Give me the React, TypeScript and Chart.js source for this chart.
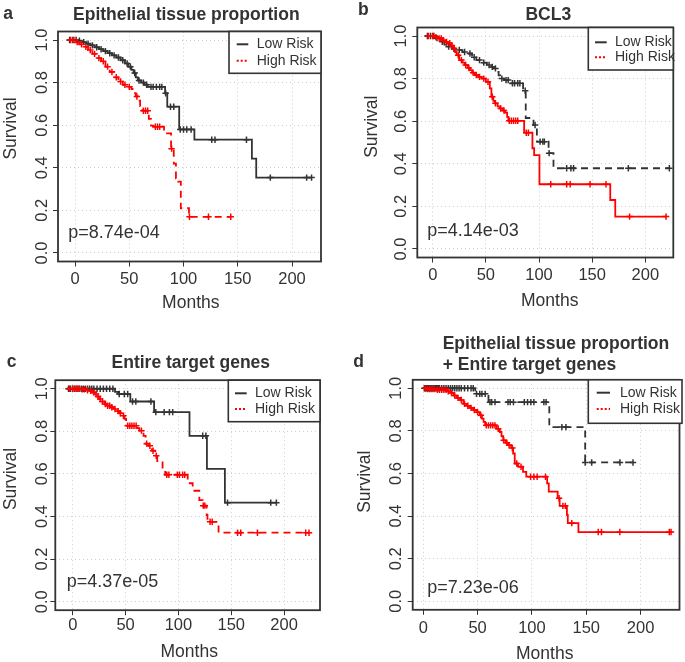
import React, { useEffect, useRef } from 'react';
import { Chart, registerables } from 'chart.js';

Chart.register(...registerables);

const FONT = '"Liberation Sans", Arial, Helvetica, sans-serif';
const INK = '#333333';
const RED = '#ff0000';

const xTicks = [0, 50, 100, 150, 200];
const yTicks = [0, 0.2, 0.4, 0.6, 0.8, 1.0];
const legendLabels = ['Low Risk', 'High Risk'];
const panelLetters = ['a', 'b', 'c', 'd'];
const panelTitles = [
  ['Epithelial tissue proportion'],
  ['BCL3'],
  ['Entire target genes'],
  ['Epithelial tissue proportion', '+ Entire target genes'],
];
const pValues = ['p=8.74e-04', 'p=4.14e-03', 'p=4.37e-05', 'p=7.23e-06'];
const xLabel = 'Months';
const yLabel = 'Survival';

// ---- Panel a: Epithelial tissue proportion ----
const aLowT = [-7, 2, 6, 10, 14, 18, 22, 26, 30, 34, 38, 42, 46, 49, 52, 54, 56, 58, 61, 64, 67, 83, 85, 96, 110, 163, 167];
const aLowS = [1.0, 0.997, 0.99, 0.983, 0.975, 0.966, 0.957, 0.948, 0.938, 0.928, 0.918, 0.905, 0.89, 0.875, 0.86, 0.845, 0.825, 0.81, 0.8, 0.79, 0.78, 0.75, 0.687, 0.58, 0.532, 0.443, 0.354];
const aLowC = [-5, -2, 1, 4, 8, 12, 16, 20, 24, 28, 32, 36, 40, 44, 48, 51, 55, 59, 63, 66, 70, 72, 75, 78, 80, 83.5, 88, 91, 97, 100, 103, 107, 126, 129, 158, 180, 213.5, 218];
const aHighT = [-7, 0, 4, 8, 12, 16, 20, 24, 28, 32, 36, 40, 44, 48, 52, 54, 56, 58, 60, 62, 68, 70, 72, 82, 88.5, 91, 93, 95, 97.5, 105];
const aHighS = [1.0, 0.99, 0.98, 0.968, 0.953, 0.935, 0.915, 0.9, 0.875, 0.85, 0.825, 0.805, 0.79, 0.78, 0.77, 0.75, 0.735, 0.715, 0.69, 0.668, 0.63, 0.598, 0.593, 0.562, 0.49, 0.42, 0.35, 0.335, 0.21, 0.17];
const aHighC = [-4, -1, 2, 6, 10, 14, 18, 22, 26, 30, 34, 38, 42, 46, 50, 57, 63, 65, 67, 74, 76, 78, 89, 105.5, 123, 143.5];

// ---- Panel b: BCL3 ----
const bLowT = [-7, 3, 7, 11, 13, 18, 22, 28, 32, 37, 41, 46, 51, 55, 57, 60, 62, 63.5, 67, 73, 85, 87.5, 94.8, 98, 109, 113.6];
const bLowS = [1.0, 0.99, 0.973, 0.96, 0.95, 0.94, 0.934, 0.925, 0.918, 0.9, 0.887, 0.875, 0.864, 0.855, 0.848, 0.832, 0.815, 0.8, 0.793, 0.778, 0.743, 0.615, 0.582, 0.504, 0.45, 0.379];
const bLowC = [-5, -2, 1, 4, 9, 15, 20, 25, 30, 35, 39, 44, 48, 53, 56, 59, 65, 69, 71, 75, 77, 80, 82, 87, 96.3, 101, 103.6, 105, 109.5, 126, 130, 132.5, 184, 222.6];
const bHighT = [-6, 2, 5, 9, 12, 14.4, 17, 19, 21, 22.5, 25, 28, 30, 33, 35, 37, 39.5, 43, 46, 50, 53.7, 55.2, 57, 58.4, 61, 63, 66, 68, 70, 71.2, 86, 93.8, 95.4, 100.4, 167, 171.7];
const bHighS = [1.0, 0.995, 0.989, 0.98, 0.972, 0.966, 0.955, 0.942, 0.925, 0.91, 0.887, 0.875, 0.864, 0.85, 0.84, 0.828, 0.817, 0.808, 0.8, 0.785, 0.754, 0.715, 0.695, 0.684, 0.67, 0.66, 0.65, 0.64, 0.62, 0.602, 0.546, 0.473, 0.441, 0.304, 0.23, 0.152];
const bHighC = [-4, 0, 3, 6, 8, 10, 13, 16, 18, 20, 24, 27, 31, 34, 38, 41, 44, 48, 52, 56, 59, 64, 67, 72, 74, 76, 78, 80, 88, 90, 111, 126, 129.3, 148, 163, 185.2, 219.5];

// ---- Panel c: Entire target genes ----
const cLowT = [-6, 40, 43, 54.5, 77, 110.5, 127, 144];
const cLowS = [1.0, 0.985, 0.975, 0.94, 0.89, 0.779, 0.624, 0.465];
const cLowC = [-4, -2, 0, 2, 4, 6, 8, 10, 12, 14, 16, 18, 20, 23, 26, 29, 32, 35, 38, 44, 48.8, 52, 56.6, 59.7, 74, 78.6, 86.5, 91.5, 94.6, 123, 126, 146.5, 187.4, 192.7];
const cHighT = [-5, 8, 13, 16, 19, 21, 23, 25, 27, 30, 33, 36, 39, 42, 44, 46, 49, 50.5, 61, 63, 67, 69, 72, 75, 78, 80, 85, 87.5, 108.8, 113.5, 119.8, 123, 126.7, 127.5, 138];
const cHighS = [1.0, 0.997, 0.993, 0.99, 0.982, 0.975, 0.963, 0.952, 0.94, 0.928, 0.92, 0.913, 0.905, 0.895, 0.885, 0.873, 0.858, 0.826, 0.815, 0.803, 0.779, 0.742, 0.732, 0.709, 0.685, 0.654, 0.623, 0.596, 0.556, 0.521, 0.477, 0.451, 0.407, 0.375, 0.324];
const cHighC = [-3, 0, 2, 4, 6, 9, 11, 14, 17, 20, 22, 24, 26, 28, 31, 33, 35, 37, 40, 43, 45, 48, 52, 54, 56, 58, 60, 65, 70, 73, 76, 79, 89, 91, 99, 101, 104, 106, 123.5, 125, 130, 132, 156, 159, 174.8, 220.5, 223.6];

// ---- Panel d: Epithelial tissue proportion + Entire target genes ----
const dLowT = [0, 47.8, 60, 116, 149];
const dLowS = [1.0, 0.974, 0.935, 0.818, 0.652];
const dLowC = [1, 2, 3, 4, 5, 6, 7, 8, 9, 10, 11, 12, 13, 14, 15, 17, 19, 21, 23, 25, 27, 29, 31, 33, 35, 38, 41, 44, 46, 49, 52, 54, 57, 61.4, 63, 66, 78, 80, 83, 93, 96, 99, 101.8, 111, 113, 127.6, 131.3, 149, 155, 181, 193];
const dHighT = [0, 3, 12, 22, 25, 28, 31, 34, 37, 40, 43, 46, 49, 52, 54, 55.5, 57, 67.5, 70.5, 72, 73.6, 76, 78, 81, 82.7, 84.2, 87.2, 91.8, 94.8, 114, 115.5, 123.7, 125.5, 132.2, 133, 142.8];
const dHighS = [1.0, 0.997, 0.993, 0.986, 0.978, 0.966, 0.955, 0.945, 0.927, 0.918, 0.908, 0.898, 0.888, 0.873, 0.858, 0.842, 0.826, 0.81, 0.795, 0.775, 0.756, 0.744, 0.733, 0.72, 0.694, 0.647, 0.632, 0.608, 0.585, 0.554, 0.515, 0.484, 0.448, 0.406, 0.367, 0.325];
const dHighC = [2, 4, 6, 8, 10, 13, 15, 17, 19, 21, 23, 26, 29, 32, 35, 38, 41, 44, 47, 50, 53, 58, 60, 62, 64, 66, 69, 74, 77, 79, 82, 86, 90, 98.8, 101.8, 104.8, 112.5, 125, 128.5, 130.7, 136.7, 161, 164, 180.9, 226.4, 228];

const panelData = [
  { lowT: aLowT, lowS: aLowS, lowC: aLowC, highT: aHighT, highS: aHighS, highC: aHighC },
  { lowT: bLowT, lowS: bLowS, lowC: bLowC, highT: bHighT, highS: bHighS, highC: bHighC },
  { lowT: cLowT, lowS: cLowS, lowC: cLowC, highT: cHighT, highS: cHighS, highC: cHighC },
  { lowT: dLowT, lowS: dLowS, lowC: dLowC, highT: dHighT, highS: dHighS, highC: dHighC },
];

// ---- Layout (page pixel positions) ----
const DASH = [7, 5];
const layouts = [
  {
    box: { l: 58, t: 31.5, r: 321, b: 261.5 }, xMin: -15.7, xMax: 226.7,
    letter: { x: 3.3, y: 18.5 }, title: { x: 186.3, ys: [19.5], align: 'center' },
    pval: { x: 68.3, y: 237.5 }, xTickY: 283.5, yTickX: 46.5,
    xTitle: { x: 190.8, y: 307.5 }, yTitle: { x: 15.5, y: 128.5 },
    legend: { l: 229, t: 31.5, r: 321, b: 73.3, sx1: 236.7, sx2: 248.3, tx: 256.7, y1: 44.3, y2: 60.7 },
    lowDash: [], highDash: DASH,
  },
  {
    box: { l: 417.3, t: 27.5, r: 673.3, b: 257.5 }, xMin: -14.5, xMax: 226.3,
    letter: { x: 358, y: 15 }, title: { x: 548.3, ys: [19.5], align: 'center' },
    pval: { x: 427.3, y: 236 }, xTickY: 280, yTickX: 405.5,
    xTitle: { x: 549.7, y: 305.5 }, yTitle: { x: 376.5, y: 126.7 },
    legend: { l: 588.3, t: 27.5, r: 673.3, b: 70, sx1: 595, sx2: 606.7, tx: 615, y1: 42.3, y2: 57.3 },
    lowDash: DASH, highDash: [],
  },
  {
    box: { l: 55.3, t: 380.2, r: 320, b: 610.2 }, xMin: -16.5, xMax: 234,
    letter: { x: 6.7, y: 366.7 }, title: { x: 190.8, ys: [367.5], align: 'center' },
    pval: { x: 66.7, y: 586.7 }, xTickY: 630, yTickX: 46.5,
    xTitle: { x: 189.2, y: 657 }, yTitle: { x: 16, y: 479 },
    legend: { l: 228.3, t: 380.2, r: 320, b: 421.7, sx1: 235, sx2: 246.7, tx: 255, y1: 393.3, y2: 409 },
    lowDash: [], highDash: DASH,
  },
  {
    box: { l: 412.7, t: 379.8, r: 682, b: 609.8 }, xMin: -9.7, xMax: 235.8,
    letter: { x: 353.3, y: 366.7 }, title: { x: 442.7, ys: [348.5, 369.5], align: 'left' },
    pval: { x: 427.3, y: 592.7 }, xTickY: 633.3, yTickX: 400.5,
    xTitle: { x: 544.7, y: 658.5 }, yTitle: { x: 370, y: 481.7 },
    legend: { l: 588.3, t: 379.8, r: 682, b: 423.3, sx1: 596.7, sx2: 610, tx: 620, y1: 392.7, y2: 409 },
    lowDash: DASH, highDash: [],
  },
];

const W = 685;
const H = 662;

function survAt(T: number[], S: number[], t: number) {
  let v = S[0];
  for (let i = 0; i < T.length; i++) if (T[i] <= t) v = S[i];
  return v;
}

function curve(T: number[], S: number[], C: number[]) {
  const pts = T.map((t, i) => ({ x: t, y: S[i] }));
  const end = Math.max(...C);
  if (end > T[T.length - 1]) pts.push({ x: end, y: S[S.length - 1] });
  return pts;
}

function censors(T: number[], S: number[], C: number[]) {
  return C.map((c) => ({ x: c, y: survAt(T, S, c) }));
}

function makeOverlay(idx: number) {
  const L: any = layouts[idx];
  return {
    id: 'overlay' + idx,
    afterDraw(chart: any) {
      const ctx = chart.ctx as CanvasRenderingContext2D;
      const { left, top, right, bottom } = chart.chartArea;
      const xs = chart.scales.x;
      const ys = chart.scales.y;
      ctx.save();
      // plot box
      ctx.strokeStyle = INK;
      ctx.lineWidth = 1.8;
      ctx.setLineDash([]);
      ctx.strokeRect(left, top, right - left, bottom - top);

      ctx.fillStyle = INK;
      // x tick labels
      ctx.font = `16.5px ${FONT}`;
      ctx.textAlign = 'center';
      ctx.textBaseline = 'alphabetic';
      xTicks.forEach((v) => {
        ctx.fillText(String(v), xs.getPixelForValue(v), L.xTickY);
      });
      // y tick labels (rotated)
      yTicks.forEach((v) => {
        ctx.save();
        ctx.translate(L.yTickX, ys.getPixelForValue(v));
        ctx.rotate(-Math.PI / 2);
        ctx.fillText(v.toFixed(1), 0, 0);
        ctx.restore();
      });
      // axis titles
      ctx.font = `17.5px ${FONT}`;
      ctx.fillText(xLabel, L.xTitle.x, L.xTitle.y);
      ctx.save();
      ctx.translate(L.yTitle.x, L.yTitle.y);
      ctx.rotate(-Math.PI / 2);
      ctx.fillText(yLabel, 0, 0);
      ctx.restore();
      // p-value
      ctx.font = `18px ${FONT}`;
      ctx.textAlign = 'left';
      ctx.fillText(pValues[idx], L.pval.x, L.pval.y);
      // title
      ctx.font = `bold 17.5px ${FONT}`;
      ctx.textAlign = L.title.align;
      panelTitles[idx].forEach((t, i) => ctx.fillText(t, L.title.x, L.title.ys[i]));
      // letter
      ctx.textAlign = 'left';
      ctx.fillText(panelLetters[idx], L.letter.x, L.letter.y);

      // legend
      const lg = L.legend;
      ctx.fillStyle = '#ffffff';
      ctx.fillRect(lg.l, lg.t, lg.r - lg.l, lg.b - lg.t);
      ctx.strokeStyle = INK;
      ctx.lineWidth = 1.6;
      ctx.strokeRect(lg.l, lg.t, lg.r - lg.l, lg.b - lg.t);
      ctx.lineWidth = 2;
      ctx.beginPath();
      ctx.moveTo(lg.sx1, lg.y1);
      ctx.lineTo(lg.sx2, lg.y1);
      ctx.stroke();
      ctx.strokeStyle = RED;
      ctx.setLineDash([2, 2]);
      ctx.beginPath();
      ctx.moveTo(lg.sx1, lg.y2);
      ctx.lineTo(lg.sx2, lg.y2);
      ctx.stroke();
      ctx.setLineDash([]);
      ctx.fillStyle = INK;
      ctx.font = `14px ${FONT}`;
      ctx.textBaseline = 'middle';
      ctx.fillText(legendLabels[0], lg.tx, lg.y1);
      ctx.fillText(legendLabels[1], lg.tx, lg.y2);
      ctx.restore();
    },
  };
}

function Panel({ idx }: { idx: number }) {
  const ref = useRef<HTMLCanvasElement>(null);
  useEffect(() => {
    const L: any = layouts[idx];
    const D = panelData[idx];
    const lineDs = (data: any[], color: string, dash: number[], label: string) => ({
      type: 'line' as const,
      label,
      data,
      borderColor: color,
      borderWidth: 1.8,
      borderDash: dash,
      stepped: 'before' as const,
      pointRadius: 0,
      fill: false,
      tension: 0,
    });
    const censDs = (data: any[], color: string, label: string) => ({
      type: 'line' as const,
      label,
      data,
      showLine: false,
      borderColor: color,
      backgroundColor: color,
      pointStyle: 'cross' as const,
      pointRadius: 3.2,
      pointBorderWidth: 1.5,
      pointBorderColor: color,
    });
    const chart = new Chart(ref.current as HTMLCanvasElement, {
      type: 'line',
      data: {
        datasets: [
          censDs(censors(D.highT, D.highS, D.highC), RED, legendLabels[1] + ' censored'),
          lineDs(curve(D.highT, D.highS, D.highC), RED, L.highDash, legendLabels[1]),
          censDs(censors(D.lowT, D.lowS, D.lowC), INK, legendLabels[0] + ' censored'),
          lineDs(curve(D.lowT, D.lowS, D.lowC), INK, L.lowDash, legendLabels[0]),
        ] as any,
      },
      options: {
        responsive: false,
        animation: false,
        devicePixelRatio: 1,
        events: [],
        layout: {
          padding: { left: L.box.l, top: L.box.t, right: W - L.box.r, bottom: H - L.box.b },
        },
        plugins: { legend: { display: false }, tooltip: { enabled: false }, title: { display: false } },
        scales: {
          x: {
            type: 'linear',
            min: L.xMin,
            max: L.xMax,
            afterBuildTicks: (s: any) => { s.ticks = xTicks.map((v) => ({ value: v })); },
            afterFit: (s: any) => { s.height = 0; },
            ticks: { display: false },
            grid: { color: '#cfcfcf', lineWidth: 1, tickLength: 5, tickColor: INK, tickWidth: 1, tickBorderDash: [] } as any,
            border: { display: false, dash: [1, 3] },
          },
          y: {
            type: 'linear',
            min: -0.04,
            max: 1.04,
            afterBuildTicks: (s: any) => { s.ticks = yTicks.map((v) => ({ value: v })); },
            afterFit: (s: any) => { s.width = 0; },
            ticks: { display: false },
            grid: { color: '#cfcfcf', lineWidth: 1, tickLength: 5, tickColor: INK, tickWidth: 1, tickBorderDash: [] } as any,
            border: { display: false, dash: [1, 3] },
          },
        },
      },
      plugins: [makeOverlay(idx)],
    });
    return () => chart.destroy();
  }, [idx]);
  return (
    <canvas
      ref={ref}
      width={W}
      height={H}
      style={{ position: 'absolute', left: 0, top: 0, width: W, height: H }}
    />
  );
}

export default function App() {
  return (
    <div style={{ position: 'absolute', left: 0, top: 0, width: W, height: H, background: '#ffffff' }}>
      {[0, 1, 2, 3].map((i) => (
        <Panel key={i} idx={i} />
      ))}
    </div>
  );
}
